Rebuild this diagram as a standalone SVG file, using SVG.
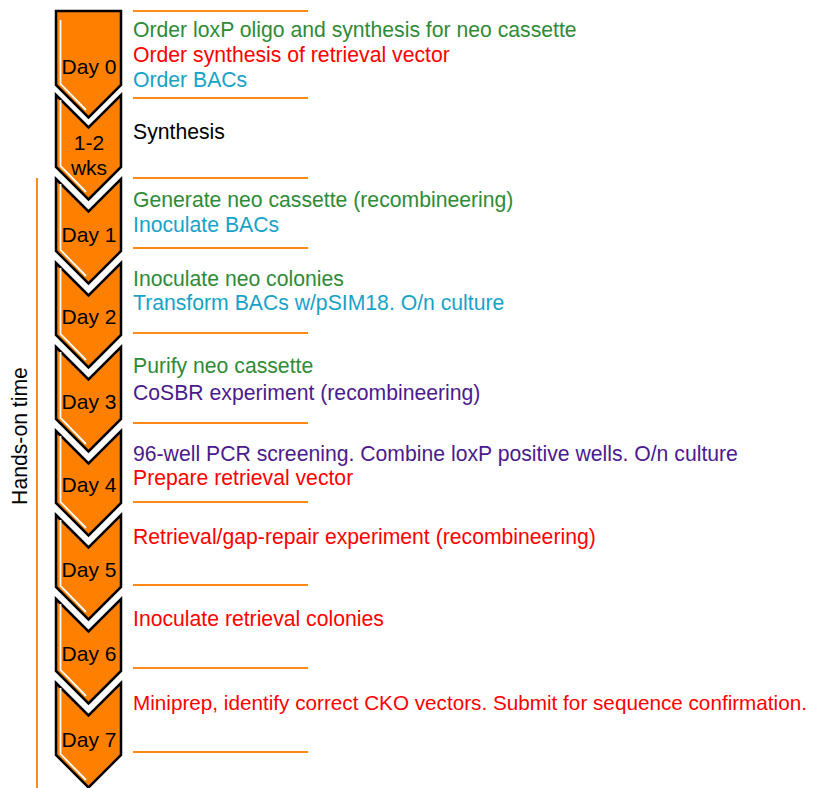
<svg xmlns="http://www.w3.org/2000/svg" width="821" height="788" viewBox="0 0 821 788">
<style>
.chev{fill:#ff8000;stroke:#000;stroke-width:2.5;stroke-linejoin:miter}
.hl{fill:none;stroke:#fff;stroke-width:1.8}
.lab{font-family:"Liberation Sans",Arial,sans-serif;font-size:21px;fill:#000;text-anchor:middle}
.t{font-family:"Liberation Sans",Arial,sans-serif;font-size:21.2px}
.g{fill:#2e8b37}
.r{fill:#ff0000}
.c{fill:#17a2c8}
.p{fill:#4b1a8c}
.k{fill:#000}
.sep{stroke:#ff8a1a;stroke-width:2}
</style>
<rect width="821" height="788" fill="#fff"/>
<g id="hands-on">
<line x1="37" y1="178" x2="37" y2="788" class="sep"/>
<text class="t k" transform="translate(27,436) rotate(-90)" text-anchor="middle">Hands-on time</text>
</g>
<g id="separators">
<line x1="133" y1="11" x2="308" y2="11" class="sep"/>
<line x1="133" y1="98" x2="308" y2="98" class="sep"/>
<line x1="133" y1="178" x2="308" y2="178" class="sep"/>
<line x1="133" y1="248" x2="308" y2="248" class="sep"/>
<line x1="133" y1="333" x2="308" y2="333" class="sep"/>
<line x1="133" y1="423" x2="308" y2="423" class="sep"/>
<line x1="133" y1="502" x2="308" y2="502" class="sep"/>
<line x1="133" y1="585" x2="308" y2="585" class="sep"/>
<line x1="133" y1="668" x2="308" y2="668" class="sep"/>
<line x1="133" y1="752" x2="308" y2="752" class="sep"/>
</g>
<g id="day0">
<path class="chev" d="M56,11 L121,11 L121,85 L88.5,117.5 L56,85 Z"/>
<polyline class="hl" points="60.5,20 60.5,84 86,110"/>
<text class="lab" x="89" y="74">Day 0</text>
</g>
<g id="wks">
<path class="chev" d="M56,95 L88.5,127.5 L121,95 L121,167 L88.5,199.5 L56,167 Z"/>
<polyline class="hl" points="60.5,100 60.5,166 86,192"/>
<text class="lab" x="89" y="150">1-2</text>
<text class="lab" x="89" y="175">wks</text>
</g>
<g id="day1">
<path class="chev" d="M56,179 L88.5,211.5 L121,179 L121,251 L88.5,283.5 L56,251 Z"/>
<polyline class="hl" points="60.5,184 60.5,250 86,276"/>
<text class="lab" x="89" y="242">Day 1</text>
</g>
<g id="day2">
<path class="chev" d="M56,263 L88.5,295.5 L121,263 L121,335 L88.5,367.5 L56,335 Z"/>
<polyline class="hl" points="60.5,268 60.5,334 86,360"/>
<text class="lab" x="89" y="324">Day 2</text>
</g>
<g id="day3">
<path class="chev" d="M56,347 L88.5,379.5 L121,347 L121,419 L88.5,451.5 L56,419 Z"/>
<polyline class="hl" points="60.5,352 60.5,418 86,444"/>
<text class="lab" x="89" y="409">Day 3</text>
</g>
<g id="day4">
<path class="chev" d="M56,431 L88.5,463.5 L121,431 L121,503 L88.5,535.5 L56,503 Z"/>
<polyline class="hl" points="60.5,436 60.5,502 86,528"/>
<text class="lab" x="89" y="492">Day 4</text>
</g>
<g id="day5">
<path class="chev" d="M56,515 L88.5,547.5 L121,515 L121,587 L88.5,619.5 L56,587 Z"/>
<polyline class="hl" points="60.5,520 60.5,586 86,612"/>
<text class="lab" x="89" y="577">Day 5</text>
</g>
<g id="day6">
<path class="chev" d="M56,599 L88.5,631.5 L121,599 L121,671 L88.5,703.5 L56,671 Z"/>
<polyline class="hl" points="60.5,604 60.5,670 86,696"/>
<text class="lab" x="89" y="661">Day 6</text>
</g>
<g id="day7">
<path class="chev" d="M56,683 L88.5,715.5 L121,683 L121,755 L88.5,787.5 L56,755 Z"/>
<polyline class="hl" points="60.5,688 60.5,754 86,780"/>
<text class="lab" x="89" y="747">Day 7</text>
</g>
<g id="tasks">
<text class="t g" x="133" y="37">Order loxP oligo and synthesis for neo cassette</text>
<text class="t r" x="133" y="62">Order synthesis of retrieval vector</text>
<text class="t c" x="133" y="87">Order BACs</text>
<text class="t k" x="133" y="139">Synthesis</text>
<text class="t g" x="133" y="207">Generate neo cassette (recombineering)</text>
<text class="t c" x="133" y="232">Inoculate BACs</text>
<text class="t g" x="133" y="286">Inoculate neo colonies</text>
<text class="t c" x="133" y="310">Transform BACs w/pSIM18. O/n culture</text>
<text class="t g" x="133" y="373">Purify neo cassette</text>
<text class="t p" x="133" y="400">CoSBR experiment (recombineering)</text>
<text class="t p" x="133" y="461">96-well PCR screening. Combine loxP positive wells. O/n culture</text>
<text class="t r" x="133" y="485">Prepare retrieval vector</text>
<text class="t r" x="133" y="544">Retrieval/gap-repair experiment (recombineering)</text>
<text class="t r" x="133" y="626">Inoculate retrieval colonies</text>
<text class="t r" x="133" y="710" style="font-size:20.8px" textLength="674" lengthAdjust="spacingAndGlyphs">Miniprep, identify correct CKO vectors. Submit for sequence confirmation.</text>
</g>
</svg>
